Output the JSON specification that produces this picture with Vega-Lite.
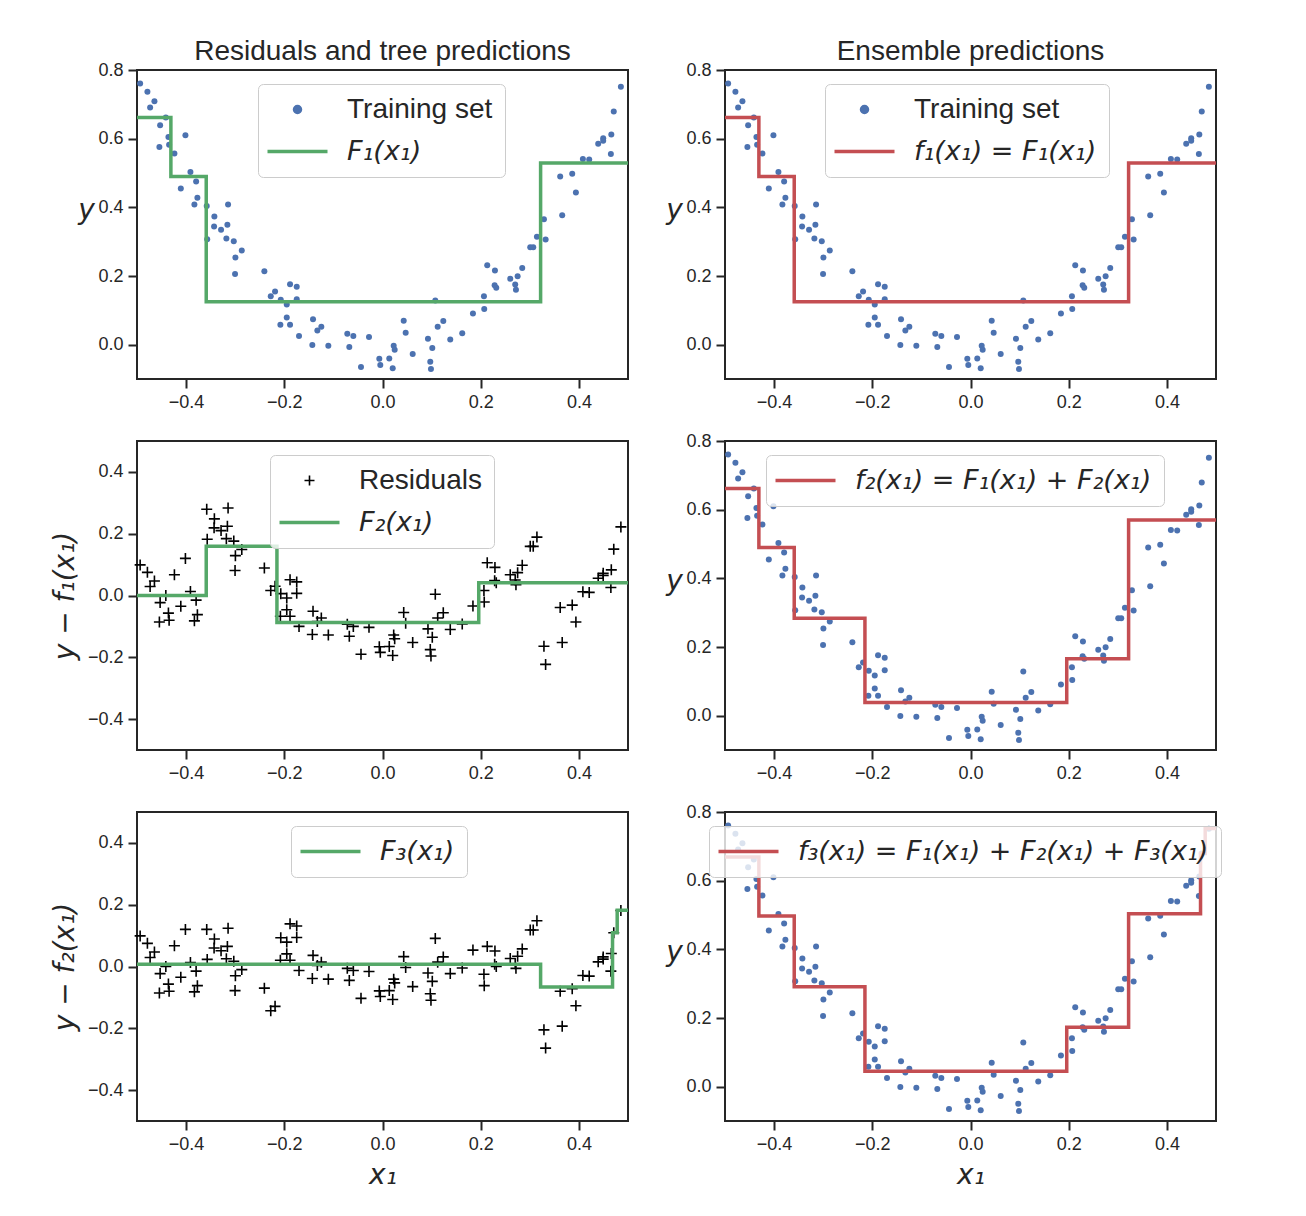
{
"$schema": "https://vega.github.io/schema/vega-lite/v6.json",
"padding": {"left": 50, "top": 37, "right": 10, "bottom": 10},
"columns": 2,
"spacing": {"row": 62, "column": 97},
"bounds": "flush",
"resolve": {"scale": {"color": "independent", "x": "independent", "y": "independent"}, "axis": {"x": "independent", "y": "independent"}, "legend": {"color": "independent"}},
"datasets": {
"pts": [
{"x":-0.4936,"y":0.761,"r1":0.099,"r2":0.099},
{"x":-0.4788,"y":0.737,"r1":0.075,"r2":0.075},
{"x":-0.4645,"y":0.709,"r1":0.047,"r2":0.047},
{"x":-0.4733,"y":0.691,"r1":0.029,"r2":0.029},
{"x":-0.4413,"y":0.662,"r1":0.000,"r2":0.000},
{"x":-0.4529,"y":0.639,"r1":-0.023,"r2":-0.023},
{"x":-0.4014,"y":0.610,"r1":0.120,"r2":0.120},
{"x":-0.4360,"y":0.605,"r1":-0.057,"r2":-0.057},
{"x":-0.4544,"y":0.576,"r1":-0.086,"r2":-0.086},
{"x":-0.4346,"y":0.582,"r1":-0.080,"r2":-0.080},
{"x":-0.4238,"y":0.557,"r1":0.067,"r2":0.067},
{"x":-0.3912,"y":0.503,"r1":0.013,"r2":0.013},
{"x":-0.3796,"y":0.475,"r1":-0.015,"r2":-0.015},
{"x":-0.4108,"y":0.455,"r1":-0.035,"r2":-0.035},
{"x":-0.3770,"y":0.428,"r1":-0.062,"r2":-0.062},
{"x":-0.3831,"y":0.408,"r1":-0.082,"r2":-0.082},
{"x":-0.3580,"y":0.404,"r1":0.279,"r2":0.120},
{"x":-0.3145,"y":0.408,"r1":0.283,"r2":0.124},
{"x":-0.3424,"y":0.373,"r1":0.248,"r2":0.089},
{"x":-0.3430,"y":0.344,"r1":0.219,"r2":0.060},
{"x":-0.3288,"y":0.335,"r1":0.210,"r2":0.051},
{"x":-0.3159,"y":0.349,"r1":0.224,"r2":0.065},
{"x":-0.3570,"y":0.307,"r1":0.182,"r2":0.023},
{"x":-0.3180,"y":0.309,"r1":0.184,"r2":0.025},
{"x":-0.3029,"y":0.301,"r1":0.176,"r2":0.017},
{"x":-0.2866,"y":0.274,"r1":0.149,"r2":-0.010},
{"x":-0.2996,"y":0.254,"r1":0.129,"r2":-0.030},
{"x":-0.3003,"y":0.206,"r1":0.081,"r2":-0.078},
{"x":-0.2406,"y":0.214,"r1":0.089,"r2":-0.070},
{"x":-0.2276,"y":0.141,"r1":0.016,"r2":-0.143},
{"x":-0.2188,"y":0.155,"r1":0.030,"r2":-0.129},
{"x":-0.1883,"y":0.176,"r1":0.051,"r2":0.138},
{"x":-0.1747,"y":0.169,"r1":0.044,"r2":0.131},
{"x":-0.2072,"y":0.131,"r1":0.006,"r2":0.093},
{"x":-0.1747,"y":0.132,"r1":0.007,"r2":0.094},
{"x":-0.1950,"y":0.117,"r1":-0.008,"r2":0.079},
{"x":-0.1950,"y":0.079,"r1":-0.046,"r2":0.041},
{"x":-0.2080,"y":0.058,"r1":-0.067,"r2":0.020},
{"x":-0.1883,"y":0.058,"r1":-0.067,"r2":0.020},
{"x":-0.1700,"y":0.025,"r1":-0.100,"r2":-0.013},
{"x":-0.1415,"y":0.074,"r1":-0.051,"r2":0.036},
{"x":-0.1327,"y":0.041,"r1":-0.084,"r2":0.003},
{"x":-0.1246,"y":0.052,"r1":-0.073,"r2":0.014},
{"x":-0.1429,"y":-0.001,"r1":-0.126,"r2":-0.039},
{"x":-0.1103,"y":-0.003,"r1":-0.128,"r2":-0.041},
{"x":-0.0717,"y":0.032,"r1":-0.093,"r2":-0.006},
{"x":-0.0594,"y":0.025,"r1":-0.100,"r2":-0.013},
{"x":-0.0676,"y":-0.007,"r1":-0.132,"r2":-0.045},
{"x":-0.0275,"y":0.022,"r1":-0.103,"r2":-0.016},
{"x":-0.0438,"y":-0.065,"r1":-0.190,"r2":-0.103},
{"x":-0.0065,"y":-0.041,"r1":-0.166,"r2":-0.079},
{"x":-0.0045,"y":-0.059,"r1":-0.184,"r2":-0.097},
{"x":0.0138,"y":-0.040,"r1":-0.165,"r2":-0.078},
{"x":0.0208,"y":-0.069,"r1":-0.194,"r2":-0.107},
{"x":0.0228,"y":-0.003,"r1":-0.128,"r2":-0.041},
{"x":0.0248,"y":-0.015,"r1":-0.140,"r2":-0.053},
{"x":0.0432,"y":0.070,"r1":-0.055,"r2":0.032},
{"x":0.0472,"y":0.035,"r1":-0.090,"r2":-0.003},
{"x":0.0615,"y":-0.027,"r1":-0.152,"r2":-0.065},
{"x":0.1075,"y":0.129,"r1":0.004,"r2":0.091},
{"x":0.0926,"y":0.017,"r1":-0.108,"r2":-0.021},
{"x":0.1014,"y":-0.010,"r1":-0.135,"r2":-0.048},
{"x":0.0973,"y":-0.050,"r1":-0.175,"r2":-0.088},
{"x":0.0987,"y":-0.071,"r1":-0.196,"r2":-0.109},
{"x":0.1124,"y":0.052,"r1":-0.073,"r2":0.014},
{"x":0.1238,"y":0.069,"r1":-0.056,"r2":0.031},
{"x":0.1380,"y":0.015,"r1":-0.110,"r2":-0.023},
{"x":0.1624,"y":0.033,"r1":-0.092,"r2":-0.005},
{"x":0.1842,"y":0.091,"r1":-0.034,"r2":0.053},
{"x":0.2072,"y":0.104,"r1":-0.021,"r2":-0.062},
{"x":0.2066,"y":0.141,"r1":0.016,"r2":-0.025},
{"x":0.2133,"y":0.231,"r1":0.106,"r2":0.065},
{"x":0.2290,"y":0.216,"r1":0.091,"r2":0.050},
{"x":0.2284,"y":0.173,"r1":0.048,"r2":0.007},
{"x":0.2317,"y":0.166,"r1":0.041,"r2":0.000},
{"x":0.2602,"y":0.192,"r1":0.067,"r2":0.026},
{"x":0.2752,"y":0.199,"r1":0.074,"r2":0.033},
{"x":0.2703,"y":0.175,"r1":0.050,"r2":0.009},
{"x":0.2718,"y":0.160,"r1":0.035,"r2":-0.006},
{"x":0.2846,"y":0.223,"r1":0.098,"r2":0.057},
{"x":0.3009,"y":0.284,"r1":0.159,"r2":0.118},
{"x":0.3070,"y":0.284,"r1":0.159,"r2":0.118},
{"x":0.3145,"y":0.314,"r1":0.189,"r2":0.148},
{"x":0.3322,"y":0.306,"r1":-0.223,"r2":-0.264},
{"x":0.3288,"y":0.365,"r1":-0.164,"r2":-0.205},
{"x":0.3660,"y":0.377,"r1":-0.152,"r2":-0.193},
{"x":0.3619,"y":0.490,"r1":-0.039,"r2":-0.080},
{"x":0.3864,"y":0.498,"r1":-0.031,"r2":-0.072},
{"x":0.3939,"y":0.443,"r1":-0.086,"r2":-0.127},
{"x":0.4081,"y":0.541,"r1":0.012,"r2":-0.029},
{"x":0.4210,"y":0.539,"r1":0.010,"r2":-0.031},
{"x":0.4393,"y":0.585,"r1":0.056,"r2":0.015},
{"x":0.4495,"y":0.601,"r1":0.072,"r2":0.031},
{"x":0.4495,"y":0.594,"r1":0.065,"r2":0.024},
{"x":0.4660,"y":0.612,"r1":0.083,"r2":0.042},
{"x":0.4651,"y":0.555,"r1":0.026,"r2":-0.015},
{"x":0.4710,"y":0.679,"r1":0.150,"r2":0.109},
{"x":0.4855,"y":0.751,"r1":0.222,"r2":0.181}
],
"F1": [{"x":-0.5,"y":0.662},{"x":-0.431,"y":0.49},{"x":-0.359,"y":0.125},{"x":0.322,"y":0.529},{"x":0.5,"y":0.529}],
"F2": [{"x":-0.5,"y":0.0},{"x":-0.359,"y":0.159},{"x":-0.215,"y":-0.087},{"x":0.196,"y":0.041},{"x":0.5,"y":0.041}],
"F3": [{"x":-0.5,"y":0.007},{"x":0.322,"y":-0.066},{"x":0.4685,"y":0.109},{"x":0.478,"y":0.182},{"x":0.5,"y":0.182}],
"f2": [{"x":-0.5,"y":0.662},{"x":-0.431,"y":0.49},{"x":-0.359,"y":0.284},{"x":-0.215,"y":0.038},{"x":0.196,"y":0.166},{"x":0.322,"y":0.57},{"x":0.5,"y":0.57}],
"f3": [{"x":-0.5,"y":0.669},{"x":-0.431,"y":0.497},{"x":-0.359,"y":0.291},{"x":-0.215,"y":0.045},{"x":0.196,"y":0.173},{"x":0.322,"y":0.504},{"x":0.4685,"y":0.679},{"x":0.478,"y":0.752},{"x":0.5,"y":0.752}]
},
"concat": [
{
"width": 491, "height": 309,
"title": {"text": "Residuals and tree predictions"},
"layer": [
{"data": {"name": "pts"}, "mark": {"type": "circle", "size": 36, "color": "#4C72B0", "opacity": 1},
 "encoding": {
  "x": {"field": "x", "type": "quantitative", "scale": {"domain": [-0.5, 0.5], "nice": false, "zero": false}, "axis": {"values": [-0.4,-0.2,0,0.2,0.4], "format": ".1f", "title": null}},
  "y": {"field": "y", "type": "quantitative", "scale": {"domain": [-0.1, 0.8], "nice": false, "zero": false}, "axis": {"values": [0,0.2,0.4,0.6,0.8], "format": ".1f", "title": "y", "titleAngle": 0, "titleX": -51, "titleY": 154.5, "titleAlign": "center", "titleBaseline": "bottom"}}
 }},
{"data": {"name": "F1"}, "mark": {"type": "line", "interpolate": "step-after", "strokeWidth": 3.5},
 "encoding": {
  "x": {"field": "x", "type": "quantitative", "scale": {"domain": [-0.5, 0.5], "nice": false, "zero": false}, "axis": {"values": [-0.4,-0.2,0,0.2,0.4], "format": ".1f", "title": null}},
  "y": {"field": "y", "type": "quantitative", "scale": {"domain": [-0.1, 0.8], "nice": false, "zero": false}, "axis": {"values": [0,0.2,0.4,0.6,0.8], "format": ".1f", "title": "y", "titleAngle": 0, "titleX": -51, "titleY": 154.5, "titleAlign": "center", "titleBaseline": "bottom"}},
  "color": {"datum": "F₁(x₁)", "type": "nominal", "scale": {"domain": ["Training set", "F₁(x₁)"], "range": ["#4C72B0", "#55A868"]},
   "legend": {"orient": "none", "legendX": 121, "legendY": 14, "title": null,
    "encode": {
     "symbols": {"update": {
      "shape": {"signal": "datum.value == 'Training set' ? 'circle' : 'M-3,0H3'"},
      "size": {"signal": "datum.value == 'Training set' ? 36 : 400"},
      "fill": {"signal": "datum.value == 'Training set' ? '#4C72B0' : 'transparent'"},
      "stroke": {"signal": "datum.value == 'Training set' ? 'transparent' : '#55A868'"},
      "strokeWidth": {"value": 3.5}
     }},
     "labels": {"update": {
      "font": {"signal": "datum.value == 'Training set' ? 'Liberation Sans' : 'DejaVu Sans'"},
      "fontStyle": {"signal": "datum.value == 'Training set' ? 'normal' : 'italic'"},
      "fontSize": {"signal": "datum.value == 'Training set' ? 28 : 27"}
     }}
    }}}
 }}
]
},
{
"width": 491, "height": 309,
"title": {"text": "Ensemble predictions"},
"layer": [
{"data": {"name": "pts"}, "mark": {"type": "circle", "size": 36, "color": "#4C72B0", "opacity": 1},
 "encoding": {
  "x": {"field": "x", "type": "quantitative", "scale": {"domain": [-0.5, 0.5], "nice": false, "zero": false}, "axis": {"values": [-0.4,-0.2,0,0.2,0.4], "format": ".1f", "title": null}},
  "y": {"field": "y", "type": "quantitative", "scale": {"domain": [-0.1, 0.8], "nice": false, "zero": false}, "axis": {"values": [0,0.2,0.4,0.6,0.8], "format": ".1f", "title": "y", "titleAngle": 0, "titleX": -51, "titleY": 154.5, "titleAlign": "center", "titleBaseline": "bottom"}}
 }},
{"data": {"name": "F1"}, "mark": {"type": "line", "interpolate": "step-after", "strokeWidth": 3.5},
 "encoding": {
  "x": {"field": "x", "type": "quantitative", "scale": {"domain": [-0.5, 0.5], "nice": false, "zero": false}, "axis": {"values": [-0.4,-0.2,0,0.2,0.4], "format": ".1f", "title": null}},
  "y": {"field": "y", "type": "quantitative", "scale": {"domain": [-0.1, 0.8], "nice": false, "zero": false}, "axis": {"values": [0,0.2,0.4,0.6,0.8], "format": ".1f", "title": "y", "titleAngle": 0, "titleX": -51, "titleY": 154.5, "titleAlign": "center", "titleBaseline": "bottom"}},
  "color": {"datum": "f₁(x₁) = F₁(x₁)", "type": "nominal", "scale": {"domain": ["Training set", "f₁(x₁) = F₁(x₁)"], "range": ["#4C72B0", "#C44E52"]},
   "legend": {"orient": "none", "legendX": 100, "legendY": 14, "title": null,
    "encode": {
     "symbols": {"update": {
      "shape": {"signal": "datum.value == 'Training set' ? 'circle' : 'M-3,0H3'"},
      "size": {"signal": "datum.value == 'Training set' ? 36 : 400"},
      "fill": {"signal": "datum.value == 'Training set' ? '#4C72B0' : 'transparent'"},
      "stroke": {"signal": "datum.value == 'Training set' ? 'transparent' : '#C44E52'"},
      "strokeWidth": {"value": 3.5}
     }},
     "labels": {"update": {
      "font": {"signal": "datum.value == 'Training set' ? 'Liberation Sans' : 'DejaVu Sans'"},
      "fontStyle": {"signal": "datum.value == 'Training set' ? 'normal' : 'italic'"},
      "fontSize": {"signal": "datum.value == 'Training set' ? 28 : 27"}
     }}
    }}}
 }}
]
},
{
"width": 491, "height": 309,
"layer": [
{"data": {"name": "pts"}, "mark": {"type": "point", "shape": "M-1,0H1M0,-1V1", "size": 121, "filled": false, "stroke": "#000000", "strokeWidth": 1.6, "opacity": 1},
 "encoding": {
  "x": {"field": "x", "type": "quantitative", "scale": {"domain": [-0.5, 0.5], "nice": false, "zero": false}, "axis": {"values": [-0.4,-0.2,0,0.2,0.4], "format": ".1f", "title": null}},
  "y": {"field": "r1", "type": "quantitative", "scale": {"domain": [-0.5, 0.5], "nice": false, "zero": false}, "axis": {"values": [-0.4,-0.2,0,0.2,0.4], "format": ".1f", "title": "y − f₁(x₁)"}}
 }},
{"data": {"name": "F2"}, "mark": {"type": "line", "interpolate": "step-after", "strokeWidth": 3.5},
 "encoding": {
  "x": {"field": "x", "type": "quantitative", "scale": {"domain": [-0.5, 0.5], "nice": false, "zero": false}, "axis": {"values": [-0.4,-0.2,0,0.2,0.4], "format": ".1f", "title": null}},
  "y": {"field": "y", "type": "quantitative", "scale": {"domain": [-0.5, 0.5], "nice": false, "zero": false}, "axis": {"values": [-0.4,-0.2,0,0.2,0.4], "format": ".1f", "title": "y − f₁(x₁)"}},
  "color": {"datum": "F₂(x₁)", "type": "nominal", "scale": {"domain": ["Residuals", "F₂(x₁)"], "range": ["#000000", "#55A868"]},
   "legend": {"orient": "none", "legendX": 133, "legendY": 14, "title": null,
    "encode": {
     "symbols": {"update": {
      "shape": {"signal": "datum.value == 'Residuals' ? 'M-0.5,0H0.5M0,-0.5V0.5' : 'M-3,0H3'"},
      "size": {"value": 400},
      "fill": {"value": "transparent"},
      "stroke": {"signal": "datum.value == 'Residuals' ? '#000000' : '#55A868'"},
      "strokeWidth": {"signal": "datum.value == 'Residuals' ? 1.6 : 3.5"}
     }},
     "labels": {"update": {
      "font": {"signal": "datum.value == 'Residuals' ? 'Liberation Sans' : 'DejaVu Sans'"},
      "fontStyle": {"signal": "datum.value == 'Residuals' ? 'normal' : 'italic'"},
      "fontSize": {"signal": "datum.value == 'Residuals' ? 28 : 27"}
     }}
    }}}
 }}
]
},
{
"width": 491, "height": 309,
"layer": [
{"data": {"name": "pts"}, "mark": {"type": "circle", "size": 36, "color": "#4C72B0", "opacity": 1},
 "encoding": {
  "x": {"field": "x", "type": "quantitative", "scale": {"domain": [-0.5, 0.5], "nice": false, "zero": false}, "axis": {"values": [-0.4,-0.2,0,0.2,0.4], "format": ".1f", "title": null}},
  "y": {"field": "y", "type": "quantitative", "scale": {"domain": [-0.1, 0.8], "nice": false, "zero": false}, "axis": {"values": [0,0.2,0.4,0.6,0.8], "format": ".1f", "title": "y", "titleAngle": 0, "titleX": -51, "titleY": 154.5, "titleAlign": "center", "titleBaseline": "bottom"}}
 }},
{"data": {"name": "f2"}, "mark": {"type": "line", "interpolate": "step-after", "strokeWidth": 3.5},
 "encoding": {
  "x": {"field": "x", "type": "quantitative", "scale": {"domain": [-0.5, 0.5], "nice": false, "zero": false}, "axis": {"values": [-0.4,-0.2,0,0.2,0.4], "format": ".1f", "title": null}},
  "y": {"field": "y", "type": "quantitative", "scale": {"domain": [-0.1, 0.8], "nice": false, "zero": false}, "axis": {"values": [0,0.2,0.4,0.6,0.8], "format": ".1f", "title": "y", "titleAngle": 0, "titleX": -51, "titleY": 154.5, "titleAlign": "center", "titleBaseline": "bottom"}},
  "color": {"datum": "f₂(x₁) = F₁(x₁) + F₂(x₁)", "type": "nominal", "scale": {"domain": ["f₂(x₁) = F₁(x₁) + F₂(x₁)"], "range": ["#C44E52"]},
   "legend": {"orient": "none", "legendX": 41, "legendY": 14, "title": null, "labelFont": "DejaVu Sans", "labelFontStyle": "italic", "labelFontSize": 27, "symbolType": "M-3,0H3", "symbolSize": 400, "symbolStrokeColor": "#C44E52", "symbolFillColor": "transparent", "symbolStrokeWidth": 3.5}}
 }}
]
},
{
"width": 491, "height": 309,
"layer": [
{"data": {"name": "pts"}, "mark": {"type": "point", "shape": "M-1,0H1M0,-1V1", "size": 121, "filled": false, "stroke": "#000000", "strokeWidth": 1.6, "opacity": 1},
 "encoding": {
  "x": {"field": "x", "type": "quantitative", "scale": {"domain": [-0.5, 0.5], "nice": false, "zero": false}, "axis": {"values": [-0.4,-0.2,0,0.2,0.4], "format": ".1f", "title": "x₁"}},
  "y": {"field": "r2", "type": "quantitative", "scale": {"domain": [-0.5, 0.5], "nice": false, "zero": false}, "axis": {"values": [-0.4,-0.2,0,0.2,0.4], "format": ".1f", "title": "y − f₂(x₁)"}}
 }},
{"data": {"name": "F3"}, "mark": {"type": "line", "interpolate": "step-after", "strokeWidth": 3.5},
 "encoding": {
  "x": {"field": "x", "type": "quantitative", "scale": {"domain": [-0.5, 0.5], "nice": false, "zero": false}, "axis": {"values": [-0.4,-0.2,0,0.2,0.4], "format": ".1f", "title": "x₁"}},
  "y": {"field": "y", "type": "quantitative", "scale": {"domain": [-0.5, 0.5], "nice": false, "zero": false}, "axis": {"values": [-0.4,-0.2,0,0.2,0.4], "format": ".1f", "title": "y − f₂(x₁)"}},
  "color": {"datum": "F₃(x₁)", "type": "nominal", "scale": {"domain": ["F₃(x₁)"], "range": ["#55A868"]},
   "legend": {"orient": "none", "legendX": 154, "legendY": 14, "title": null, "labelFont": "DejaVu Sans", "labelFontStyle": "italic", "labelFontSize": 27, "symbolType": "M-3,0H3", "symbolSize": 400, "symbolStrokeColor": "#55A868", "symbolFillColor": "transparent", "symbolStrokeWidth": 3.5}}
 }}
]
},
{
"width": 491, "height": 309,
"layer": [
{"data": {"name": "pts"}, "mark": {"type": "circle", "size": 36, "color": "#4C72B0", "opacity": 1},
 "encoding": {
  "x": {"field": "x", "type": "quantitative", "scale": {"domain": [-0.5, 0.5], "nice": false, "zero": false}, "axis": {"values": [-0.4,-0.2,0,0.2,0.4], "format": ".1f", "title": "x₁"}},
  "y": {"field": "y", "type": "quantitative", "scale": {"domain": [-0.1, 0.8], "nice": false, "zero": false}, "axis": {"values": [0,0.2,0.4,0.6,0.8], "format": ".1f", "title": "y", "titleAngle": 0, "titleX": -51, "titleY": 154.5, "titleAlign": "center", "titleBaseline": "bottom"}}
 }},
{"data": {"name": "f3"}, "mark": {"type": "line", "interpolate": "step-after", "strokeWidth": 3.5},
 "encoding": {
  "x": {"field": "x", "type": "quantitative", "scale": {"domain": [-0.5, 0.5], "nice": false, "zero": false}, "axis": {"values": [-0.4,-0.2,0,0.2,0.4], "format": ".1f", "title": "x₁"}},
  "y": {"field": "y", "type": "quantitative", "scale": {"domain": [-0.1, 0.8], "nice": false, "zero": false}, "axis": {"values": [0,0.2,0.4,0.6,0.8], "format": ".1f", "title": "y", "titleAngle": 0, "titleX": -51, "titleY": 154.5, "titleAlign": "center", "titleBaseline": "bottom"}},
  "color": {"datum": "f₃(x₁) = F₁(x₁) + F₂(x₁) + F₃(x₁)", "type": "nominal", "scale": {"domain": ["f₃(x₁) = F₁(x₁) + F₂(x₁) + F₃(x₁)"], "range": ["#C44E52"]},
   "legend": {"orient": "none", "legendX": -16, "legendY": 14, "title": null, "labelFont": "DejaVu Sans", "labelFontStyle": "italic", "labelFontSize": 27, "symbolType": "M-3,0H3", "symbolSize": 400, "symbolStrokeColor": "#C44E52", "symbolFillColor": "transparent", "symbolStrokeWidth": 3.5}}
 }}
]
}
],
"config": {
 "font": "Liberation Sans",
 "background": "#ffffff",
 "view": {"stroke": "#262626", "strokeWidth": 2},
 "title": {"font": "Liberation Sans", "fontSize": 28, "fontWeight": "normal", "color": "#262626", "offset": -5, "baseline": "alphabetic", "anchor": "middle", "frame": "group"},
 "axis": {"grid": false, "domain": false, "tickSize": 9, "tickWidth": 2, "tickColor": "#262626", "labelFont": "Liberation Sans", "labelFontSize": 18, "labelColor": "#262626", "labelPadding": 5, "labelFlush": false, "labelOverlap": false, "titleFont": "DejaVu Sans", "titleFontStyle": "italic", "titleFontWeight": "normal", "titleFontSize": 28, "titleColor": "#262626", "titlePadding": 8},
 "legend": {"labelFontSize": 28, "labelFont": "Liberation Sans", "labelColor": "#262626", "labelLimit": 1000, "padding": 12, "symbolOffset": 14, "labelOffset": 36, "rowPadding": 13, "symbolSize": 400, "symbolStrokeWidth": 3.5, "fillColor": "rgba(255,255,255,0.8)", "strokeColor": "#cccccc", "cornerRadius": 5}
}
}
